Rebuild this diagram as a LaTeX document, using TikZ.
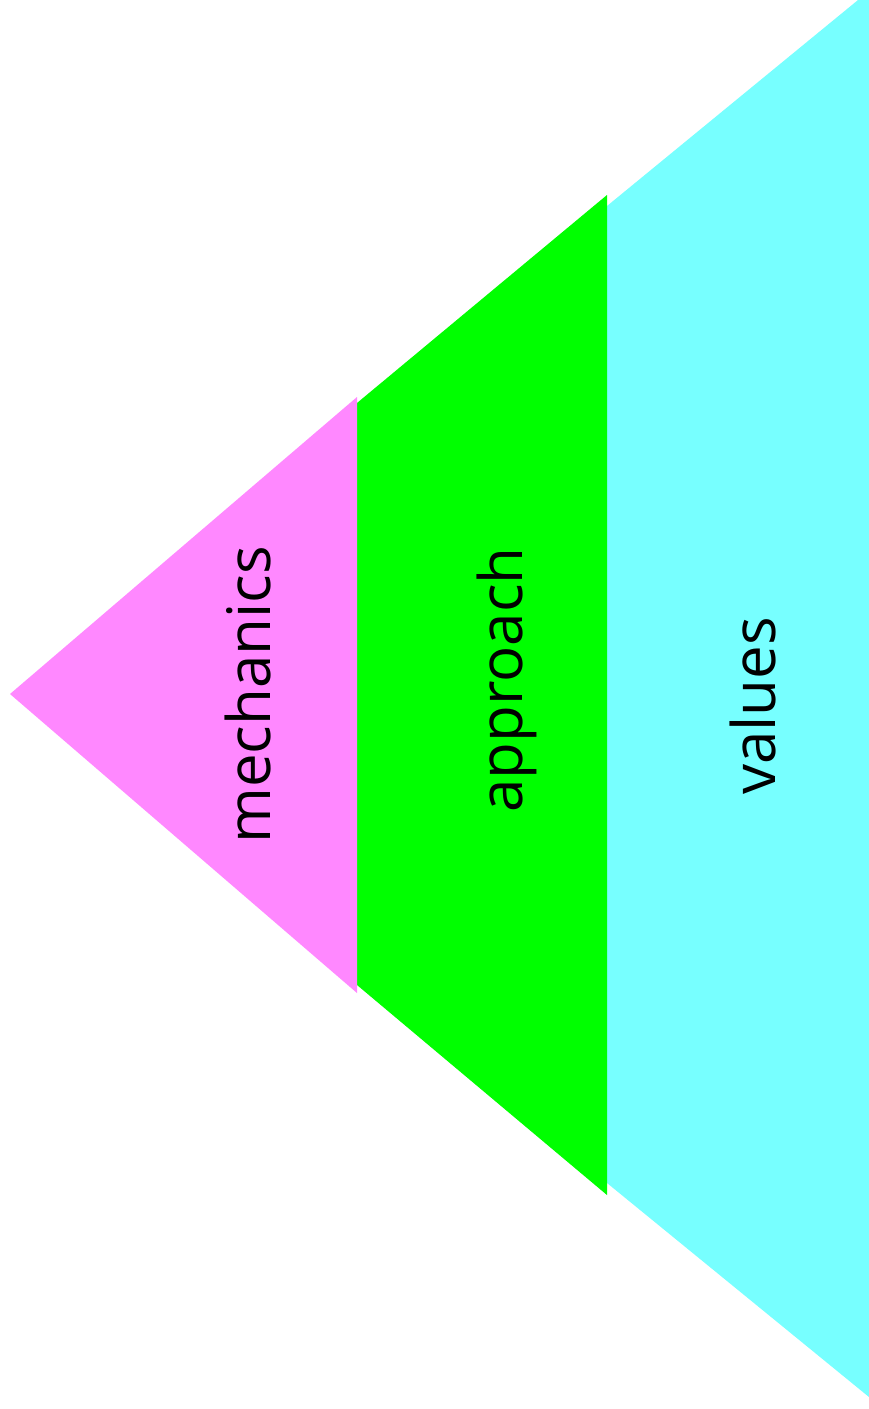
\documentclass[tikz,border=0pt]{standalone}
\usepackage{fontspec}
\setmainfont{Open Sans}
\definecolor{pinkc}{RGB}{255,136,255}
\definecolor{greenc}{RGB}{0,255,0}
\definecolor{cyanc}{RGB}{119,255,255}
\tikzset{lbl/.style={rotate=90,anchor=base,inner sep=0pt,font=\fontsize{60}{72}\selectfont}}
\begin{document}
\begin{tikzpicture}[x=1pt,y=-1pt]
\useasboundingbox (0,0) rectangle (869,1409);
\begin{scope}
\clip (0,0) rectangle (869,1409);
\fill[cyanc] (607,206) -- (869,-9) -- (869,1397) -- (607,1183) -- cycle;
\end{scope}
\fill[greenc] (357,403) -- (607,195) -- (607,1195) -- (357,985) -- cycle;
\fill[pinkc] (10,694) -- (357,397) -- (357,993) -- cycle;
\node[lbl] (mech) at (270,695) {mechanics};
\node[lbl] (appr) at (522,680) {approach};
\node[lbl] (vals) at (775,706) {values};
\end{tikzpicture}
\end{document}
